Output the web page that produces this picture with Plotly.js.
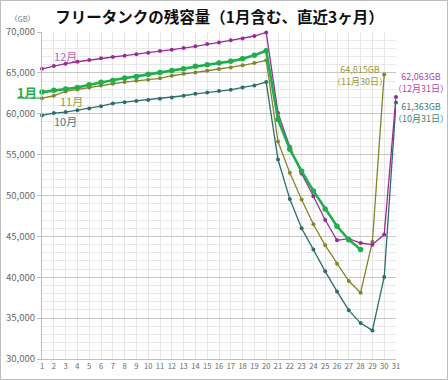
<!DOCTYPE html>
<html><head><meta charset="utf-8">
<script src="https://cdn.plot.ly/plotly-3.0.1.min.js"></script>
<style>html,body{margin:0;padding:0;background:#fff}#wrap{position:relative;width:448px;height:380px}#chart{width:448px;height:380px}#frame{position:absolute;left:0;top:0;width:448px;height:380px;box-sizing:border-box;border:1px solid #bdbdbd;pointer-events:none}</style>
</head><body><div id="wrap"><div id="chart"></div><div id="frame"></div></div>
<script>
const days = Array.from({length:31},(_,i)=>i+1);
const tickLabels = days.map(String);
const oct = [59800,60080,60200,60440,60650,60930,61260,61420,61550,61670,61850,62000,62200,62440,62610,62770,62930,63220,63470,63870,54400,49560,45990,43380,40720,38270,35950,34390,33500,40030,61363];
const nov = [61900,62200,62730,62980,63220,63470,63670,63870,64030,64160,64330,64650,64890,65060,65260,65470,65670,65920,66200,66530,56600,52770,49500,46480,43910,41660,39540,38110,44350,64815,null];
const dec = [65500,65830,66120,66360,66570,66780,66940,67100,67270,67460,67670,67830,68040,68250,68530,68730,68980,69220,69510,69950,60100,55950,52690,49910,47000,44520,44720,44190,43990,45220,62063];
const jan = [62650,62860,63020,63220,63550,63840,64080,64370,64570,64820,65060,65300,65510,65800,66000,66200,66410,66730,67150,67710,59300,55650,52970,50560,48350,46240,44600,43380,null,null,null];
const seriesNames = ['10月','11月','12月','1月'];

const F = '"Noto Sans CJK JP", "Noto Sans", sans-serif';
function tr(y,name,color,w,ms){return {x:days,y:y,name:name,type:'scatter',mode:'lines+markers',
  line:{color:color,width:w},marker:{color:color,size:ms},connectgaps:false,cliponaxis:false};}
const data = [
  tr(oct,seriesNames[0],'#2b6e6c',1.3,4),
  tr(nov,seriesNames[1],'#86842a',1.3,4),
  tr(dec,seriesNames[2],'#9a2a9a',1.3,4),
  tr(jan,seriesNames[3],'#1fae4a',2.6,5.5)
];
function ann(x,y,text,color,size,bold){return {x:x,y:y,xref:'x',yref:'y',text:bold?'<b>'+text+'</b>':text,showarrow:false,
  font:{family:F,size:size,color:color},xanchor:'center',yanchor:'middle'};}
function pann(x,y,text,color,size,bold){return {x:x,y:y,xref:'paper',yref:'paper',text:bold?'<b>'+text+'</b>':text,showarrow:false,
  font:{family:F,size:size,color:color},xanchor:'center',yanchor:'middle'};}
const layout = {
  width:448,height:380,margin:{l:42,r:52,t:32,b:21},
  paper_bgcolor:'#fff',plot_bgcolor:'#fff',showlegend:false,
  title:{text:'<b>フリータンクの残容量（1月含む、直近3ヶ月）</b>',font:{family:F,size:15.5,color:'#111'},x:0.49,xref:'container',y:0.955,yref:'container',yanchor:'middle'},
  xaxis:{range:[1,31],tickvals:days,ticktext:tickLabels,showgrid:true,gridcolor:'#e6e6e6',gridwidth:1,
    zeroline:false,showline:true,linecolor:'#bfbfbf',ticks:'',tickfont:{family:F,size:7.5,color:'#666'}},
  yaxis:{range:[30000,70000],dtick:5000,tickformat:',',showgrid:true,gridcolor:'#c6c6c6',gridwidth:1,
    minor:{dtick:1000,showgrid:true,gridcolor:'#e8e8e8',ticks:''},
    zeroline:false,showline:true,linecolor:'#bfbfbf',ticks:'outside',ticklen:4,tickcolor:'#bfbfbf',
    tickfont:{family:F,size:9.5,color:'#666'}},
  annotations:[
    pann(-0.055,1.04,'（GB）','#777',7.5),
    ann(2.95,67060,'12月','#b466b4',11),
    ann(3.46,61550,'11月','#9a9640',11),
    ann(3.03,59100,'10月','#3f7f7d',11),
    pann(-0.042,0.8165,'1月','#1fae4a',12.5,true),
    ann(27.95,64670,'64,815GB<br>（11月30日）','#9a9838',9),
    pann(1.0706,0.8456,'62,063GB<br>（12月31日）','#b045b0',9),
    pann(1.0706,0.7523,'61,363GB<br>（10月31日）','#3d8080',9)
  ],
  shapes:[{type:'line',xref:'paper',yref:'paper',x0:-0.0706,x1:0,y0:0.798,y1:0.798,line:{color:'#1fae4a',width:1.2}}]
};
Plotly.newPlot('chart',data,layout,{displayModeBar:false,staticPlot:true});
</script></body></html>
